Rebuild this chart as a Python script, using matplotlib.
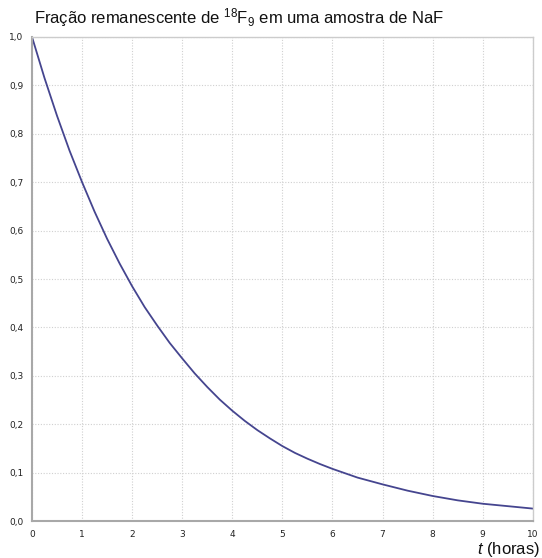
import matplotlib
matplotlib.use("Agg")
import matplotlib.pyplot as plt

# values (hours, remaining fraction)
t_horas = [0, 0.25, 0.5, 0.75, 1, 1.25, 1.5, 1.75, 2, 2.25, 2.5, 2.75, 3,
           3.25, 3.5, 3.75, 4, 4.25, 4.5, 4.75, 5, 5.25, 5.5, 5.75, 6,
           6.5, 7, 7.5, 8, 8.5, 9, 9.5, 10]
fracao = [1.0, 0.915, 0.837, 0.765, 0.70, 0.639, 0.583, 0.532, 0.485, 0.442, 0.404, 0.368, 0.336,
          0.305, 0.277, 0.251, 0.228, 0.207, 0.188, 0.171, 0.155, 0.141, 0.129, 0.118, 0.108,
          0.090, 0.076, 0.063, 0.052, 0.043, 0.036, 0.031, 0.026]

x_ticks = list(range(0, 11))
y_ticks = [i / 10 for i in range(0, 11)]
y_labels = [f"{v:.1f}".replace(".", ",") for v in y_ticks]

fonte = ["Liberation Sans", "DejaVu Sans"]
plt.rcParams["mathtext.fontset"] = "custom"
plt.rcParams["mathtext.rm"] = "Liberation Sans"
plt.rcParams["mathtext.it"] = "Liberation Sans:italic"

fig = plt.figure(figsize=(5.42, 5.58), dpi=100)
ax = fig.add_axes([0.059, 0.066, 0.924, 0.868])

ax.plot(t_horas, fracao, color="#45458f", lw=1.3)

ax.set_xlim(0, 10)
ax.set_ylim(0, 1)
ax.set_xticks(x_ticks)
ax.set_xticklabels([str(v) for v in x_ticks])
ax.set_yticks(y_ticks)
ax.set_yticklabels(y_labels)
ax.tick_params(length=0, labelsize=6.5, colors="#222222", pad=6)
ax.grid(True, color="#d0d0d0", ls=(0, (1, 1.5)), lw=0.8)

for s in ["left", "bottom"]:
    ax.spines[s].set_color("#a8a8a8")
    ax.spines[s].set_linewidth(1.5)
for s in ["top", "right"]:
    ax.spines[s].set_color("#cccccc")
    ax.spines[s].set_linewidth(1.0)

fig.text(0.062, 0.968, r"Fração remanescente de $^{18}$F$_9$ em uma amostra de NaF",
         family=fonte, fontsize=12, ha="left", va="center", color="#111111")
fig.text(0.997, 0.016, r"$t$ (horas)", family=fonte, fontsize=12,
         ha="right", va="center", color="#111111")

fig.savefig("out.png", dpi=100)
